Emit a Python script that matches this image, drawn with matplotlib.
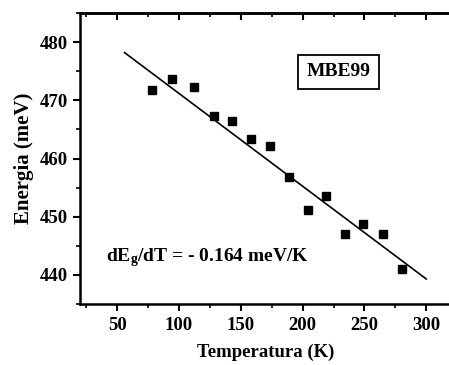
import matplotlib
matplotlib.use("Agg")
import matplotlib.pyplot as plt
from matplotlib.ticker import MultipleLocator

temperature = [78, 94, 112, 128, 143, 158, 174, 189, 204, 219, 234, 249, 265, 280]
energy = [471.7, 473.7, 472.3, 467.3, 466.5, 463.3, 462.1, 456.9, 451.2, 453.5, 447.1, 448.7, 447.1, 441.0]
fit_t = [56, 300]
fit_e = [478.2, 439.3]
x_ticks = [50, 100, 150, 200, 250, 300]
y_ticks = [440, 450, 460, 470, 480]

plt.rcParams['font.family'] = ['Liberation Serif', 'DejaVu Serif']
plt.rcParams['font.weight'] = 'bold'
plt.rcParams['mathtext.fontset'] = 'custom'
plt.rcParams['mathtext.rm'] = 'Liberation Serif:bold'
plt.rcParams['mathtext.it'] = 'Liberation Serif:bold'

fig = plt.figure(figsize=(4.49, 3.65), dpi=100)
W, H = 449, 365
ax = fig.add_axes([80 / W, 1 - 304 / H, 371 / W, 291 / H])

ax.plot(temperature, energy, 's', color='black', ms=5.2)
ax.plot(fit_t, fit_e, '-', color='black', lw=1.2)

ax.set_xlim(20, 320)
ax.set_ylim(435, 485)
ax.set_xticks(x_ticks)
ax.set_yticks(y_ticks)
ax.xaxis.set_minor_locator(MultipleLocator(25))
ax.yaxis.set_minor_locator(MultipleLocator(5))
ax.tick_params(axis='both', which='major', direction='out', length=5, width=1.5,
               labelsize=13.5, pad=4)
ax.tick_params(axis='both', which='minor', direction='out', length=3, width=1.2)
ax.tick_params(top=False, right=False)
for lab in ax.get_xticklabels() + ax.get_yticklabels():
    lab.set_fontweight('bold')

for s in ['left', 'bottom', 'top']:
    ax.spines[s].set_linewidth(1.8)
ax.spines['right'].set_visible(False)

sec = ax.secondary_xaxis('top')
sec.set_xticks(x_ticks)
sec.xaxis.set_minor_locator(MultipleLocator(25))
sec.tick_params(axis='x', which='major', direction='in', length=5, width=1.5, labeltop=False)
sec.tick_params(axis='x', which='minor', direction='in', length=3, width=1.2)
sec.spines['top'].set_linewidth(1.8)

ax.set_xlabel('Temperatura (K)', fontsize=13.5, fontweight='bold', labelpad=7)
ax.set_ylabel('Energia (meV)', fontsize=15, fontweight='bold', labelpad=4)

ax.text(229, 474.9, 'MBE99', fontsize=14, fontweight='bold', ha='center', va='center',
        bbox=dict(boxstyle='square,pad=0.45', fc='white', ec='black', lw=1.3))
ax.text(41, 443.0, r'dE$_g$/dT = - 0.164 meV/K', fontsize=14, fontweight='bold',
        ha='left', va='center')

fig.savefig('out.png', dpi=100)
